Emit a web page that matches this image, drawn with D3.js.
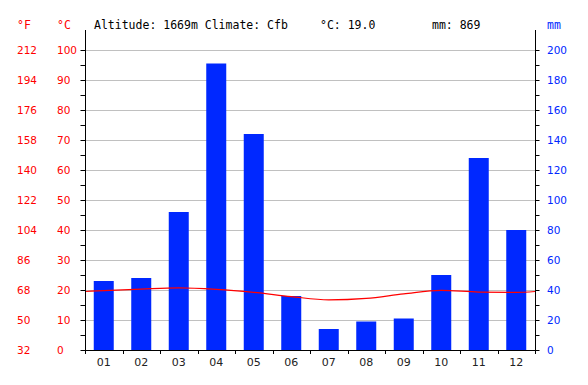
<!DOCTYPE html>
<html><head><meta charset="utf-8">
<script src="https://cdn.jsdelivr.net/npm/d3@7"></script>
<style>body{margin:0;background:#fff}svg{display:block}</style>
</head><body>
<svg id="c" width="588" height="385"></svg>
<script>
const months = ["01","02","03","04","05","06","07","08","09","10","11","12"];
const precipitation = [46,48,92,191,144,36,14,19,21,50,128,80];
const temperature = [19.8,20.3,20.7,20.2,19.2,17.8,16.7,17.2,18.7,19.9,19.3,19.2];
const celsiusTicks = [0,10,20,30,40,50,60,70,80,90,100];
const fahrenheitLabels = ["32","50","68","86","104","122","140","158","176","194","212"];
const mmTicks = [0,20,40,60,80,100,120,140,160,180,200];
const header = {altitude:"1669m", climate:"Cfb", meanC:"19.0", totalMm:"869"};

const svg = d3.select("#c");
const L = 85, R = 535, T = 50, B = 350, TOP = 30;
const x = d3.scaleBand().domain(months).range([L,R]).paddingInner(0.4667).paddingOuter(0.2333);
const yC = d3.scaleLinear().domain([0,100]).range([B,T]);
const yM = d3.scaleLinear().domain([0,200]).range([B,T]);
const red = "#ff0000", blue = "#0028ff";
const sans = "DejaVu Sans, sans-serif", mono = "DejaVu Sans Mono, monospace";

// grid
svg.append("g").selectAll("line").data(celsiusTicks.filter(d=>d>0)).join("line")
  .attr("x1",L).attr("x2",R).attr("y1",d=>Math.round(yC(d))+0.5).attr("y2",d=>Math.round(yC(d))+0.5)
  .attr("stroke","#c0c0c0").attr("stroke-width",1);

// bars
svg.append("g").selectAll("rect").data(months).join("rect")
  .attr("x",d=>x(d)).attr("width",x.bandwidth())
  .attr("y",(d,i)=>yM(precipitation[i])).attr("height",(d,i)=>B-yM(precipitation[i]))
  .attr("fill",blue);

// temperature line
const step = x.step();
const edge = (temperature[0]+temperature[11])/2;
const pts = [[L,edge]].concat(months.map((m,i)=>[x(m)+x.bandwidth()/2,temperature[i]])).concat([[R,edge]]);
svg.append("path").datum(pts)
  .attr("d",d3.line().x(d=>d[0]).y(d=>yC(d[1])).curve(d3.curveMonotoneX))
  .attr("fill","none").attr("stroke",red).attr("stroke-width",1.2);

// left axis
const leftAxis = d3.axisLeft(yC).tickValues(d3.range(0,101,5)).tickSize(5).tickFormat("");
const gl = svg.append("g").attr("transform",`translate(${L+0.5},0)`).call(leftAxis);
gl.select(".domain").remove();
gl.selectAll("line").attr("stroke","#000");
svg.append("line").attr("x1",L+0.5).attr("x2",L+0.5).attr("y1",TOP).attr("y2",B+1).attr("stroke","#000");

// right axis
const rightAxis = d3.axisRight(yM).tickValues(d3.range(0,201,10)).tickSize(4).tickFormat("");
const gr = svg.append("g").attr("transform",`translate(${R+0.5},0)`).call(rightAxis);
gr.select(".domain").remove();
gr.selectAll("line").attr("stroke","#000");
svg.append("line").attr("x1",R+0.5).attr("x2",R+0.5).attr("y1",TOP).attr("y2",B+1).attr("stroke","#000");

// bottom axis
svg.append("line").attr("x1",L).attr("x2",R+1).attr("y1",B+0.5).attr("y2",B+0.5).attr("stroke","#000");
const boundaries = d3.range(0,13).map(i=>L+i*step);
svg.append("g").selectAll("line").data(boundaries).join("line")
  .attr("x1",d=>Math.round(d)+0.5).attr("x2",d=>Math.round(d)+0.5).attr("y1",B).attr("y2",B+4).attr("stroke","#000");
svg.append("g").selectAll("text").data(months).join("text")
  .attr("x",d=>x(d)+x.bandwidth()/2).attr("y",366).attr("text-anchor","middle")
  .attr("font-family",sans).attr("font-size",11).attr("fill","#222").text(d=>d);

// left labels
svg.append("g").selectAll("text").data(celsiusTicks).join("text")
  .attr("x",57).attr("y",d=>yC(d)).attr("dy","0.36em")
  .attr("font-family",sans).attr("font-size",10.5).attr("fill",red).text(d=>d);
svg.append("g").selectAll("text").data(celsiusTicks).join("text")
  .attr("x",17).attr("y",d=>yC(d)).attr("dy","0.36em")
  .attr("font-family",sans).attr("font-size",10.5).attr("fill",red).text((d,i)=>fahrenheitLabels[i]);
// right labels
svg.append("g").selectAll("text").data(mmTicks).join("text")
  .attr("x",547).attr("y",d=>yM(d)).attr("dy","0.36em")
  .attr("font-family",sans).attr("font-size",10.5).attr("fill",blue).text(d=>d);

// header
const hy = 29;
svg.append("text").attr("x",17).attr("y",hy).attr("font-family",mono).attr("font-size",11.5).attr("fill",red).text("°F");
svg.append("text").attr("x",57).attr("y",hy).attr("font-family",mono).attr("font-size",11.5).attr("fill",red).text("°C");
svg.append("text").attr("x",547).attr("y",hy).attr("font-family",mono).attr("font-size",11.5).attr("fill",blue).text("mm");
svg.append("text").attr("x",94).attr("y",hy).attr("font-family",mono).attr("font-size",11.5).attr("fill","#000")
  .text(`Altitude: ${header.altitude} Climate: ${header.climate}`);
svg.append("text").attr("x",320).attr("y",hy).attr("font-family",mono).attr("font-size",11.5).attr("fill","#000")
  .text(`°C: ${header.meanC}`);
svg.append("text").attr("x",432).attr("y",hy).attr("font-family",mono).attr("font-size",11.5).attr("fill","#000")
  .text(`mm: ${header.totalMm}`);
</script>
</body></html>
